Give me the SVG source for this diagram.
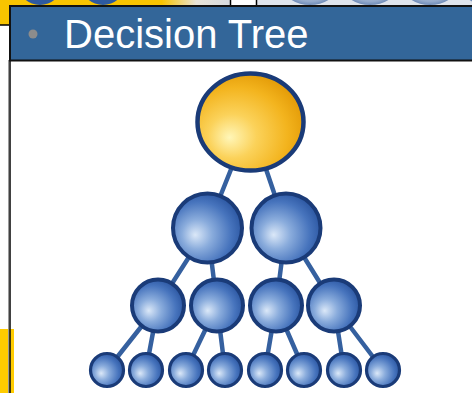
<svg xmlns="http://www.w3.org/2000/svg" width="472" height="393" viewBox="0 0 472 393">
  <defs>
    <radialGradient id="blueBall" cx="0.4" cy="0.58" r="0.62" fx="0.32" fy="0.6">
      <stop offset="0" stop-color="#dbe8f8"/>
      <stop offset="0.35" stop-color="#8aacdc"/>
      <stop offset="0.75" stop-color="#4774bd"/>
      <stop offset="1" stop-color="#2c57a2"/>
    </radialGradient>
    <radialGradient id="goldBall" cx="0.38" cy="0.62" r="0.65" fx="0.3" fy="0.66">
      <stop offset="0" stop-color="#fff6b8"/>
      <stop offset="0.35" stop-color="#fbd25a"/>
      <stop offset="0.75" stop-color="#f3b41e"/>
      <stop offset="1" stop-color="#e49c08"/>
    </radialGradient>
    <linearGradient id="stripFade" x1="0" y1="0" x2="1" y2="0">
      <stop offset="0" stop-color="#f8c400"/>
      <stop offset="0.7" stop-color="#f8c400"/>
      <stop offset="0.85" stop-color="#e8e4d8"/>
      <stop offset="1" stop-color="#d6d9de"/>
    </linearGradient>
    <radialGradient id="paleBall" cx="0.5" cy="0.5" r="0.5">
      <stop offset="0" stop-color="#c8d4e6"/>
      <stop offset="0.8" stop-color="#93a9cb"/>
      <stop offset="1" stop-color="#6f8cb8"/>
    </radialGradient>
  </defs>
  <style>
    .edge { stroke: #35609f; stroke-width: 4.5; stroke-linecap: round; }
    .ball { fill: url(#blueBall); stroke: #1a3b78; stroke-width: 4; }
    .leaf { stroke-width: 3.2; }
    .root { fill: url(#goldBall); stroke: #1a3b78; stroke-width: 4.5; }
    .title { font-family: "Liberation Sans", Arial, sans-serif; font-size: 40px; fill: #ffffff; }
  </style>

  <!-- page background -->
  <rect x="0" y="0" width="472" height="393" fill="#ffffff"/>

  <!-- slide strip showing behind the header -->
  <rect x="0" y="0" width="231" height="25" fill="url(#stripFade)"/>
  <ellipse cx="40" cy="-14" rx="21" ry="19" fill="#2d5aa0"/>
  <ellipse cx="103" cy="-14" rx="21" ry="19" fill="#2d5aa0"/>
  <line x1="0" y1="25" x2="10" y2="25" stroke="#000" stroke-width="1.5"/>
  <rect x="256" y="0" width="216" height="7" fill="#dfe4ec"/>
  <ellipse cx="310" cy="-12" rx="26" ry="17" fill="url(#paleBall)"/>
  <ellipse cx="370" cy="-12" rx="26" ry="17" fill="url(#paleBall)"/>
  <ellipse cx="430" cy="-12" rx="26" ry="17" fill="url(#paleBall)"/>
  <ellipse cx="488" cy="-12" rx="26" ry="17" fill="url(#paleBall)"/>
  <line x1="230.5" y1="0" x2="230.5" y2="7" stroke="#000" stroke-width="1.5"/>
  <line x1="256.5" y1="0" x2="256.5" y2="7" stroke="#000" stroke-width="1.5"/>

  <!-- yellow tab at lower left -->
  <rect x="0" y="329" width="14" height="64" fill="#ffcc00"/>

  <!-- content panel edge -->
  <line x1="8.5" y1="60" x2="8.5" y2="393" stroke="#9a9a9a" stroke-width="1"/>
  <line x1="10" y1="60" x2="10" y2="393" stroke="#111" stroke-width="1.6"/>

  <!-- header bar -->
  <g id="header">
    <rect x="10" y="6" width="470" height="54.5" fill="#336699" stroke="#111" stroke-width="2"/>
    <circle cx="33" cy="34" r="4.5" fill="#8c8c8c"/>
    <text class="title" x="64" y="47.5">Decision Tree</text>
  </g>

  <!-- connectors -->
  <g id="connectors">
    <line class="edge" x1="250" y1="122" x2="207.5" y2="228"/>
    <line class="edge" x1="250" y1="122" x2="286" y2="228"/>
    <line class="edge" x1="207.5" y1="228" x2="158" y2="305.5"/>
    <line class="edge" x1="207.5" y1="228" x2="217" y2="305.5"/>
    <line class="edge" x1="286" y1="228" x2="276" y2="305.5"/>
    <line class="edge" x1="286" y1="228" x2="334" y2="305.5"/>
    <line class="edge" x1="158" y1="305.5" x2="107" y2="370"/>
    <line class="edge" x1="158" y1="305.5" x2="146" y2="370"/>
    <line class="edge" x1="217" y1="305.5" x2="186" y2="370"/>
    <line class="edge" x1="217" y1="305.5" x2="225" y2="370"/>
    <line class="edge" x1="276" y1="305.5" x2="265" y2="370"/>
    <line class="edge" x1="276" y1="305.5" x2="304" y2="370"/>
    <line class="edge" x1="334" y1="305.5" x2="344" y2="370"/>
    <line class="edge" x1="334" y1="305.5" x2="383" y2="370"/>
  </g>

  <!-- root -->
  <g id="root"><ellipse class="root" cx="250.5" cy="122" rx="53" ry="48.5"/></g>

  <!-- second level -->
  <g id="n1"><circle class="ball" cx="207.5" cy="228" r="34.5"/></g>
  <g id="n2"><circle class="ball" cx="286" cy="228" r="34.5"/></g>

  <!-- third level -->
  <g id="n11"><circle class="ball" cx="158" cy="305.5" r="26"/></g>
  <g id="n12"><circle class="ball" cx="217" cy="305.5" r="26"/></g>
  <g id="n21"><circle class="ball" cx="276" cy="305.5" r="26"/></g>
  <g id="n22"><circle class="ball" cx="334" cy="305.5" r="26"/></g>

  <!-- leaves -->
  <g id="l1"><circle class="ball leaf" cx="107" cy="370" r="16.5"/></g>
  <g id="l2"><circle class="ball leaf" cx="146" cy="370" r="16.5"/></g>
  <g id="l3"><circle class="ball leaf" cx="186" cy="370" r="16.5"/></g>
  <g id="l4"><circle class="ball leaf" cx="225" cy="370" r="16.5"/></g>
  <g id="l5"><circle class="ball leaf" cx="265" cy="370" r="16.5"/></g>
  <g id="l6"><circle class="ball leaf" cx="304" cy="370" r="16.5"/></g>
  <g id="l7"><circle class="ball leaf" cx="344" cy="370" r="16.5"/></g>
  <g id="l8"><circle class="ball leaf" cx="383" cy="370" r="16.5"/></g>
</svg>
